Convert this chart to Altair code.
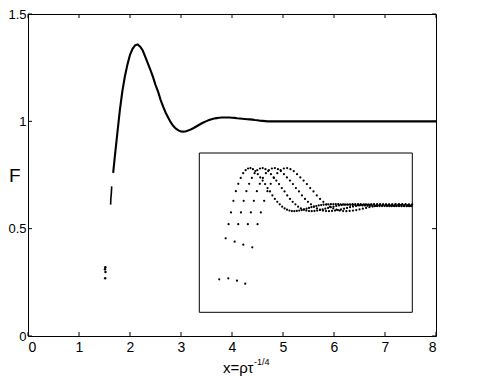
import altair as alt
import pandas as pd

# ---- data ----
# collapsed curve F(x), x = rho * tau^(-1/4)
main_x = [1.67, 1.70, 1.75, 1.80, 1.85, 1.90, 1.95, 2.00, 2.05, 2.10,
          2.15, 2.20, 2.25, 2.30, 2.35, 2.40, 2.45, 2.50, 2.55, 2.60,
          2.65, 2.70, 2.75, 2.80, 2.85, 2.90, 2.95, 3.00, 3.05, 3.10,
          3.15, 3.20, 3.25, 3.30, 3.35, 3.40, 3.45, 3.50, 3.55, 3.60,
          3.65, 3.70, 3.75, 3.80, 3.85, 3.90, 3.95, 4.00, 4.05, 4.10,
          4.15, 4.20, 4.25, 4.30, 4.35, 4.40, 4.45, 4.50, 4.55, 4.60,
          4.65, 4.70, 4.75, 4.80, 4.85, 4.90, 4.95, 5.00, 5.05, 5.10,
          5.15, 5.20, 5.25, 5.30, 5.35, 5.40, 5.45, 5.50, 6.00, 6.50,
          7.00, 7.50, 8.00]
main_f = [0.760, 0.830, 0.940, 1.050, 1.140, 1.210, 1.265, 1.310, 1.338, 1.354,
          1.358, 1.348, 1.330, 1.300, 1.270, 1.240, 1.207, 1.170, 1.138, 1.100,
          1.068, 1.040, 1.017, 0.995, 0.978, 0.966, 0.958, 0.953, 0.952, 0.954,
          0.958, 0.963, 0.969, 0.976, 0.983, 0.990, 0.996, 1.001, 1.006, 1.010,
          1.013, 1.015, 1.017, 1.018, 1.018, 1.018, 1.018, 1.017, 1.016, 1.014,
          1.013, 1.012, 1.011, 1.010, 1.009, 1.008, 1.006, 1.005, 1.003, 1.002,
          1.001, 1.000, 1.000, 1.000, 1.000, 1.000, 1.000, 1.000, 1.000, 1.000,
          1.000, 1.000, 1.000, 1.000, 1.000, 1.000, 1.000, 1.000, 1.000, 1.000,
          1.000, 1.000, 1.000]

# first and second samples of each of the four runs (isolated low points)
first_x = [1.509, 1.517, 1.519, 1.513]
first_f = [0.311, 0.320, 0.298, 0.269]
second_x = [1.641, 1.634, 1.624, 1.620]
second_f = [0.697, 0.665, 0.637, 0.612]

# inset: the same four runs against rho (relative tau^(1/4) of each run)
run_scale = [1.0, 1.117, 1.233, 1.35]
inset_rho_domain = [1.1, 5.47]

x_ticks = [0, 1, 2, 3, 4, 5, 6, 7, 8]
y_ticks = [0, 0.5, 1, 1.5]

# ---- layout ----
W, H = 408, 322
TOP = 14  # absolute pixel of the plot top
FONT = "Liberation Sans"

main_df = pd.DataFrame({"x": main_x, "f": main_f})
first_df = pd.DataFrame({"x": first_x, "f": first_f})
second_df = pd.DataFrame({"x": second_x, "f": second_f}).sort_values("x")

rows = []
for k, s in enumerate(run_scale):
    rows.append({"run": k, "rho": first_x[k] * s, "f": first_f[k]})
    rows.append({"run": k, "rho": second_x[k] * s, "f": second_f[k]})
    for xv, fv in zip(main_x, main_f):
        if xv >= 1.70:
            rows.append({"run": k, "rho": xv * s, "f": fv})
inset_df = pd.DataFrame(rows)
inset_df = inset_df[inset_df["rho"] <= inset_rho_domain[1]]

xs = alt.Scale(domain=[0, 8], nice=False, zero=False)
ys = alt.Scale(domain=[0, 1.5], nice=False, zero=False)
xaxis = alt.Axis(values=x_ticks, format="d", title=None, labelFontSize=14,
                 labelPadding=4, labelFont=FONT, labelColor="black",
                 domain=False, ticks=False, grid=False)
yaxis = alt.Axis(values=y_ticks, format="~g", title=None, labelFontSize=13,
                 labelPadding=2, labelFont=FONT, labelColor="black",
                 domain=False, ticks=False, grid=False)

X = alt.X("x:Q", scale=xs, axis=xaxis)
Y = alt.Y("f:Q", scale=ys, axis=yaxis)

curve = alt.Chart(main_df).mark_line(color="black", strokeWidth=2.1).encode(x=X, y=Y)
seg_b = alt.Chart(second_df).mark_line(color="black", strokeWidth=1.6).encode(x=X, y=Y)
low_dots = alt.Chart(first_df).mark_circle(color="black", size=6, opacity=1).encode(x=X, y=Y)

xt = pd.DataFrame({"x": x_ticks})
yt = pd.DataFrame({"f": y_ticks})
bottom_ticks = alt.Chart(xt).mark_rule(color="black").encode(
    x=X, y=alt.value(H), y2=alt.value(H - 4))
top_ticks = alt.Chart(xt).mark_rule(color="black").encode(
    x=X, y=alt.value(0), y2=alt.value(4))
left_ticks = alt.Chart(yt).mark_rule(color="black").encode(
    y=Y, x=alt.value(0), x2=alt.value(4))
right_ticks = alt.Chart(yt).mark_rule(color="black").encode(
    y=Y, x=alt.value(W), x2=alt.value(W - 4))

main = alt.layer(curve, seg_b, low_dots, bottom_ticks, top_ticks, left_ticks, right_ticks)

one = alt.Data(values=[{}])
box_l, box_r, box_t, box_b = 171.3, 384.3, 153 - TOP, 312.3 - TOP
box = alt.Chart(one).mark_rect(fill="white", fillOpacity=0, stroke="black", strokeWidth=1).encode(
    x=alt.value(box_l), x2=alt.value(box_r), y=alt.value(box_t), y2=alt.value(box_b))

inset = alt.Chart(inset_df).mark_circle(color="black", size=5, opacity=1).encode(
    x=alt.X("rho:Q", scale=alt.Scale(domain=inset_rho_domain, range=[box_l, box_r], nice=False, zero=False), axis=None),
    y=alt.Y("f:Q", scale=alt.Scale(domain=[0, 1.5], range=[box_b, box_t], nice=False, zero=False), axis=None),
    detail="run:N")

xtitle = alt.Chart(one).mark_text(align="left", baseline="alphabetic", font=FONT, fontSize=15, color="black").encode(
    x=alt.value(195), y=alt.value(373 - TOP), text=alt.value("x=ρτ"))
xsup = alt.Chart(one).mark_text(align="left", baseline="alphabetic", font=FONT, fontSize=9, color="black").encode(
    x=alt.value(226), y=alt.value(365 - TOP), text=alt.value("-1/4"))
ytitle = alt.Chart(one).mark_text(align="left", baseline="alphabetic", font=FONT, fontSize=19, color="black").encode(
    x=alt.value(-19), y=alt.value(182 - TOP), text=alt.value("F"))

chart = alt.layer(main, box, inset, xtitle, xsup, ytitle).resolve_scale(
    x="independent", y="independent"
).properties(
    width=W, height=H, autosize="none",
    padding={"left": 20, "top": TOP - 8, "right": 30, "bottom": 40},
).configure_view(stroke="black", strokeWidth=1)

chart.save("out.html", embed_options={"renderer": "svg", "actions": False})
